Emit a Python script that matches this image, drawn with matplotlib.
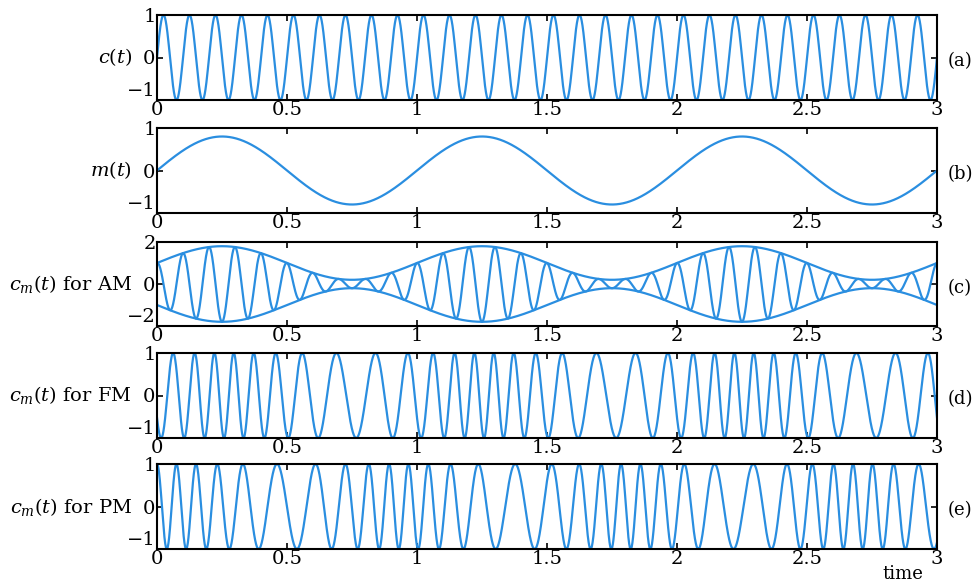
import numpy as np
import matplotlib.pyplot as plt

plt.rcParams["font.family"] = "DejaVu Serif"
plt.rcParams["mathtext.fontset"] = "dejavuserif"

# signal parameters
t_end = 3.0
carrier_freq = 10.0      # cycles per unit time in c(t)
msg_freq = 1.0           # m(t) period = 1
msg_amp = 0.8            # m(t) peak
fm_dev = 3.5             # FM frequency swing
fm_phase0 = 2.12
pm_dev = 3.5             # PM frequency swing
pm_mod_freq = 1.15
pm_t0 = 0.07

x_ticks = [0, 0.5, 1, 1.5, 2, 2.5, 3]
x_ticklabels = ["0", "0.5", "1", "1.5", "2", "2.5", "3"]
panel_labels = ["$c(t)$", "$m(t)$", "$c_m(t)$ for AM", "$c_m(t)$ for FM", "$c_m(t)$ for PM"]
panel_letters = ["(a)", "(b)", "(c)", "(d)", "(e)"]
panel_ylims = [1, 1, 2, 1, 1]
# pixel rows (top, bottom) of each panel
panel_rows = [(15, 100), (128, 213), (242, 326), (353, 438), (464, 549)]

t = np.linspace(0, t_end, 6001)
m = msg_amp * np.sin(2 * np.pi * msg_freq * t)
c = np.sin(2 * np.pi * carrier_freq * t)
envelope = 1 + m
am = envelope * np.cos(2 * np.pi * carrier_freq * t)
fm_phase = (2 * np.pi * carrier_freq * t
            + fm_dev / msg_freq * (1 - np.cos(2 * np.pi * msg_freq * t)) + fm_phase0)
fm = np.cos(fm_phase)
w = 2 * np.pi * pm_mod_freq
pm_phase = (2 * np.pi * carrier_freq * t
            + pm_dev * 2 * np.pi / w * (np.sin(w * (t - pm_t0)) - np.sin(-w * pm_t0)))
pm = np.cos(pm_phase)

line_color = "#2a8ee0"
W, H = 980, 583
fig = plt.figure(figsize=(W / 100, H / 100), dpi=100)
left, right = 157, 937

signals = [c, m, am, fm, pm]
for i, sig in enumerate(signals):
    top, bot = panel_rows[i]
    ax = fig.add_axes([left / W, 1 - bot / H, (right - left) / W, (bot - top) / H])
    ax.plot(t, sig, color=line_color, lw=1.6)
    if i == 2:
        ax.plot(t, envelope, color=line_color, lw=1.6)
        ax.plot(t, -envelope, color=line_color, lw=1.6)
    lim = panel_ylims[i]
    ax.set_xlim(0, t_end)
    ax.set_ylim(-lim, lim)
    ax.set_xticks(x_ticks)
    ax.set_xticklabels(x_ticklabels)
    ax.set_yticks([-lim, 0, lim])
    ax.set_yticklabels(["\u2212%d" % lim, "0", "%d" % lim])
    ax.tick_params(direction="in", top=True, right=True, length=4, width=1.2,
                   labelsize=14, pad=1)
    # keep the bottom y label clear of the x "0"
    ax.get_yticklabels()[0].set_verticalalignment("bottom")
    for s in ax.spines.values():
        s.set_linewidth(1.5)
    ax.text(132 / W, 1 - (top + bot) / 2 / H, panel_labels[i], transform=fig.transFigure,
            ha="right", va="center", fontsize=14)
    ax.text(948 / W, 1 - ((top + bot) / 2 + 4) / H, panel_letters[i],
            transform=fig.transFigure, ha="left", va="center", fontsize=13)

fig.text(903 / W, 1 - 574 / H, "time", ha="center", va="center", fontsize=13)

fig.savefig("out.png", dpi=100)
